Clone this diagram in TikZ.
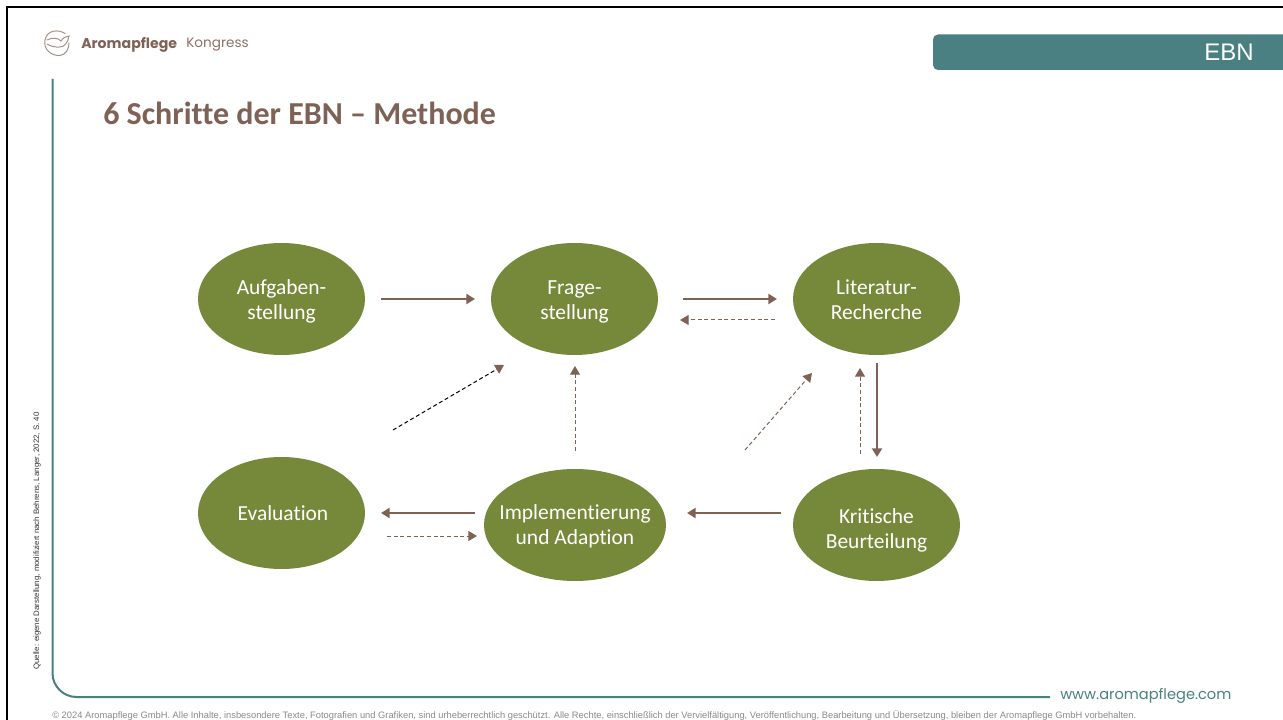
\documentclass[tikz,border=0pt]{standalone}
\usepackage{fontspec}
\setmainfont{Carlito}[RawFeature={-liga}]
\newfontfamily\arial{Liberation Sans}
\newfontfamily\brandfont{Poppins}
\usetikzlibrary{arrows.meta,shapes.geometric}
\definecolor{teal1}{HTML}{4A8081}
\definecolor{brown1}{HTML}{7F6256}
\definecolor{olive1}{HTML}{76893B}
\definecolor{gray1}{HTML}{8A8A8A}
\newcommand{\twolines}[3]{\rule{0pt}{#1}#2\\#3\rule[-4pt]{0pt}{4pt}}
\tikzset{
  stepnode/.style={ellipse,fill=olive1,text=white,inner ysep=0pt,inner xsep=-10pt,align=center,minimum width=125.25pt,minimum height=84pt,font=\fontsize{16.1}{19}\selectfont},
  widenode/.style={stepnode,inner xsep=-20pt,minimum width=136.5pt},
  solidarrow/.style={draw=brown1,line width=1.75pt,-{Triangle[length=6.5pt,width=7.5pt,fill=brown1]}},
  dasharrow/.style={draw=brown1,line width=.75pt,dash pattern=on 3pt off 2pt,-{Triangle[length=6.5pt,width=7.5pt,fill=brown1,color=brown1]}},
  blackarrow/.style={dasharrow,draw=black},
  frameline/.style={draw=teal1,line width=1.5pt},
  logoline/.style={draw=brown1!70,line width=.75pt,line cap=round}
}
\begin{document}
\begin{tikzpicture}[x=0.75pt,y=-0.75pt]
\useasboundingbox (0,0) rectangle (1283,720);
\fill[white] (0,0) rectangle (1283,720);
% outer border
\fill[black] (6,6) rectangle (1283,8.5);
\fill[black] (6,6) rectangle (8,720);
% frame
\draw[frameline] (52.5,79) -- (52.5,673) arc[start angle=180,end angle=90,radius=24] -- (1050,697);
% tab
\fill[teal1] (1283,34.5) -- (938,34.5) arc[start angle=-90,end angle=-180,radius=5] -- (933,65) arc[start angle=180,end angle=90,radius=5] -- (1283,70) -- cycle;
\node[text=white,font=\arial\fontsize{18}{20}\selectfont,inner sep=0pt] (ebn) at (1229,52.5) {EBN};
% logo
\draw[logoline] (65,33.5) .. controls (58,29) and (47,30) .. (45,40) .. controls (43,50) and (52,56) .. (60,55.5) .. controls (66,54.5) and (69,49) .. (69,43);
\draw[logoline] (47,40) .. controls (53,37) and (58,38) .. (61,41) .. controls (63,38) and (66,36) .. (69,36) .. controls (68,43) and (64,47) .. (60,47) .. controls (55,47.5) and (50,46) .. (47,44);
\node[anchor=west,inner sep=0pt,text=brown1,font=\brandfont\bfseries\fontsize{10.6}{12}\selectfont] (brand) at (81,44.5) {Aromapflege};
\node[anchor=west,inner sep=0pt,text=brown1!90,font=\brandfont\fontsize{10.2}{12}\selectfont] (kongress) at (186,44.5) {Kongress};
% title
\node[anchor=west,inner sep=0pt,text=brown1,font=\bfseries\fontsize{24}{28}\selectfont] (title) at (103,113) {6 Schritte der EBN – Methode};
% nodes
\node[stepnode] (a) at (281.5,299) {\twolines{16.2pt}{Aufgaben-}{stellung}};
\node[stepnode] (f) at (574.5,299) {\twolines{16.2pt}{Frage-}{stellung}};
\node[stepnode] (l) at (876.5,299) {\twolines{16.2pt}{Literatur-}{Recherche}};
\node[stepnode] (e) at (281.5,513) {\hspace*{2.2pt}Evaluation};
\node[widenode] (i) at (575,525) {\twolines{14.5pt}{Implementierung}{und Adaption}};
\node[stepnode] (k) at (876.5,525) {\twolines{20.5pt}{Kritische}{Beurteilung}};
% connectors
\draw[solidarrow] ([shift={(99.5,0)}]a.center) -- ([shift={(-99.5,0)}]f.center);
\draw[solidarrow] ([shift={(108.5,0)}]f.center) -- ([shift={(-99.5,0)}]l.center);
\draw[dasharrow] ([shift={(-101.5,21)}]l.center) -- ([shift={(105.5,21)}]f.center);
\draw[solidarrow] ([shift={(.5,64)}]l.center) -- ([shift={(.5,-68)}]k.center);
\draw[dasharrow] ([shift={(-16.5,-71)}]k.center) -- ([shift={(-16.5,69)}]l.center);
\draw[solidarrow] ([shift={(-95.5,-12)}]k.center) -- ([shift={(112,-12)}]i.center);
\draw[solidarrow] ([shift={(-100,-12)}]i.center) -- ([shift={(99.5,0)}]e.center);
\draw[dasharrow] ([shift={(105.5,23)}]e.center) -- ([shift={(-98,11)}]i.center);
\draw[dasharrow] ([shift={(0,-74)}]i.center) -- ([shift={(.5,67)}]f.center);
\draw[dasharrow] ([shift={(170,-75)}]i.center) -- ([shift={(-64.5,74)}]l.center);
\draw[blackarrow] ([shift={(111.5,-83)}]e.center) -- ([shift={(-70.5,66)}]f.center);
% side and footer text
\node[rotate=90,anchor=west,inner sep=0pt,text=black!80,font=\arial\fontsize{5.9}{7}\selectfont] (source) at (37,670) {Quelle: eigene Darstellung, modifiziert nach Behrens, Langer, 2022, S. 40};
\node[anchor=west,inner sep=0pt,text=gray1,font=\arial\fontsize{7}{8}\selectfont] (copy) at (52,715.5) {© 2024 Aromapflege GmbH. Alle Inhalte, insbesondere Texte, Fotografien und Grafiken, sind urheberrechtlich geschützt. Alle Rechte, einschließlich der Vervielfältigung, Veröffentlichung, Bearbeitung und Übersetzung, bleiben der Aromapflege GmbH vorbehalten.};
\node[anchor=west,inner sep=0pt,text=teal1,font=\brandfont\fontsize{10.95}{14}\selectfont] (web) at (1060,695.5) {www.aromapflege.com};
\end{tikzpicture}
\end{document}
